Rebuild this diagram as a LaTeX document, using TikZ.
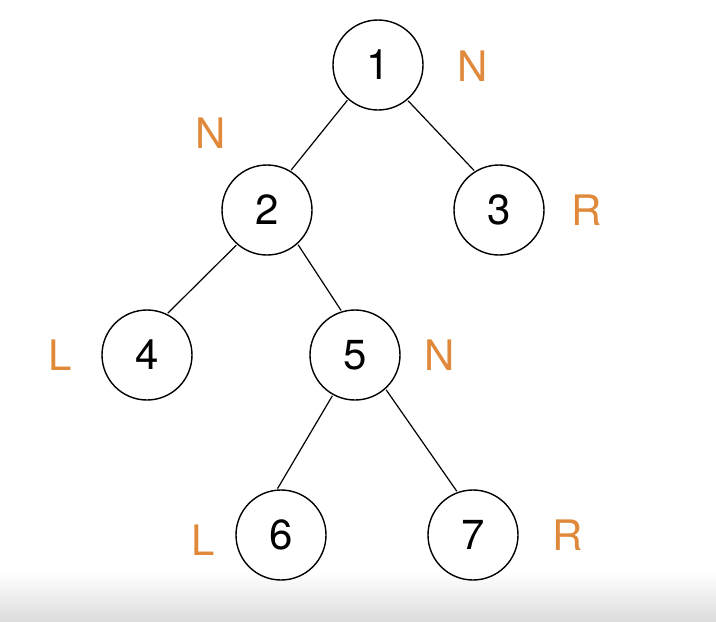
\documentclass[tikz,border=0pt]{standalone}
\usepackage{fontspec}
\setmainfont{TeX Gyre Heros}
\definecolor{lbl}{HTML}{E0893A}
\begin{document}
\begin{tikzpicture}[x=1pt,y=-1pt,
  tn/.style={circle,draw=black,line width=1.4pt,minimum size=90pt,inner sep=0pt,font=\fontsize{42}{42}\selectfont},
  lab/.style={text=lbl,font=\fontsize{42}{42}\selectfont,inner sep=0pt},
  edge/.style={draw=black,line width=1.2pt,shorten <=1pt,shorten >=1pt}]
\useasboundingbox (0,0) rectangle (716,622);
\shade[top color=white,bottom color=black!14] (0,572) rectangle (716,622);
\node[tn] (n1) at (378,65) {1};
\node[tn] (n2) at (267,210) {2};
\node[tn] (n3) at (499,210) {3};
\node[tn] (n4) at (147,355) {4};
\node[tn] (n5) at (355,355) {5};
\node[tn] (n6) at (281,535) {6};
\node[tn] (n7) at (473,535) {7};
\node[lab] (l1) at (473,66) {N};
\node[lab] (l2) at (211,133) {N};
\node[lab] (l3) at (587,210) {R};
\node[lab] (l4) at (60,355) {L};
\node[lab] (l5) at (440,355) {N};
\node[lab] (l6) at (203,540) {L};
\node[lab] (l7) at (568,535) {R};
\draw[edge] (n1.-131) -- (n2.59);
\draw[edge] (n1.-50) -- (n3.122);
\draw[edge] (n2.-131) -- (n4.64);
\draw[edge] (n2.-48) -- (n5.107);
\draw[edge] (n5.-119) -- (n6.95);
\draw[edge] (n5.-48) -- (n7.110);
\end{tikzpicture}
\end{document}
